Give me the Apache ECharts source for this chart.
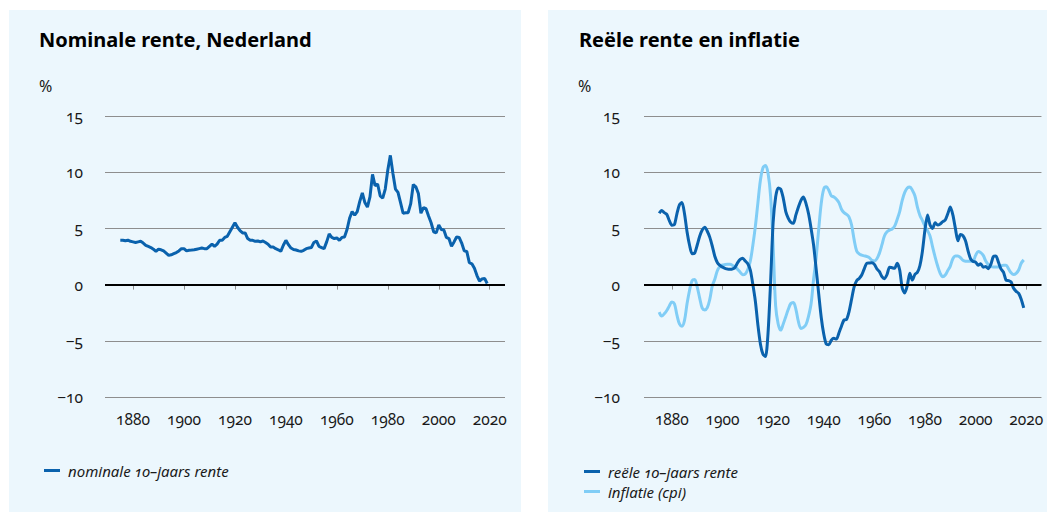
<!DOCTYPE html>
<html>
<head>
<meta charset="utf-8">
<script src="https://cdn.jsdelivr.net/npm/echarts@6/dist/echarts.min.js"></script>
<style>
html,body{margin:0;padding:0;background:#fff;}
#c{width:1047px;height:515px;font-feature-settings:"onum" 1;}
</style>
</head>
<body>
<div id="c"></div>
<script>
// ---------- data ----------
const startYear = 1875;
const xTickYears = [1880, 1900, 1920, 1940, 1960, 1980, 2000, 2020];
const yTickValues = [-10, -5, 0, 5, 10, 15];

const leftTitle = 'Nominale rente, Nederland';
const rightTitle = 'Reële rente en inflatie';
const unitLabel = '%';
const nominalName = 'nominale 10–jaars rente';
const realName = 'reële 10–jaars rente';
const inflationName = 'inflatie (cpi)';

// nominal 10-year rate, 1875-2019
const nominal = [
  3.95, 3.95, 3.9, 3.95, 3.85,
  3.8, 3.75, 3.8, 3.85, 3.7, 3.5, 3.4, 3.3, 3.15, 2.95,
  3.15, 3.1, 3.0, 2.8, 2.6, 2.65, 2.75, 2.85, 3.0, 3.2,
  3.2, 3.0, 3.05, 3.07, 3.1, 3.15, 3.2, 3.25, 3.2, 3.2,
  3.4, 3.6, 3.4, 3.6, 3.95, 3.95, 4.2, 4.3, 4.7, 5.1,
  5.5, 5.1, 4.8, 4.6, 4.6, 4.1, 3.95, 3.94, 3.85, 3.88,
  3.8, 3.88, 3.75, 3.6, 3.35, 3.35, 3.2, 3.1, 2.96, 3.5,
  3.94, 3.55, 3.25, 3.12, 3.08, 3.0, 2.96, 3.05, 3.2, 3.25,
  3.3, 3.75, 3.88, 3.4, 3.3, 3.2, 3.8, 4.5, 4.2, 4.1,
  4.15, 3.94, 4.2, 4.24, 4.9, 5.9, 6.5, 6.17, 6.5, 7.4,
  8.15, 7.3, 6.9, 7.8, 9.8, 8.8, 8.95, 7.9, 7.7, 8.5,
  10.2, 11.5, 9.9, 8.5, 8.2, 7.3, 6.35, 6.4, 6.4, 7.2,
  8.9, 8.7, 8.1, 6.35, 6.85, 6.75, 6.1, 5.5, 4.7, 4.6,
  5.3, 4.9, 4.85, 4.2, 4.1, 3.4, 3.8, 4.24, 4.2, 3.7,
  3.0, 2.95, 1.95, 1.85, 1.45, 0.8, 0.3, 0.5, 0.55, 0.1
];

// real 10-year rate, 1875-2019
const real = [
  6.35, 6.6, 6.4, 6.25, 5.7,
  5.28, 5.33, 6.3, 7.1, 7.3, 6.3, 4.7, 3.5, 2.75, 2.8,
  3.5, 4.3, 4.85, 5.1, 4.75, 4.2, 3.4, 2.5, 1.95, 1.7,
  1.55, 1.45, 1.38, 1.36, 1.4, 1.55, 1.95, 2.25, 2.35, 2.1,
  1.85, 1.3, 0.0, -1.5, -3.6, -5.3, -6.2, -6.4, -4.3, 0.2,
  5.5, 7.8, 8.6, 8.5, 7.7, 6.5, 5.9, 5.55, 5.45, 6.2,
  6.9, 7.5, 7.8, 7.2, 6.3, 5.0, 3.5, 1.4, -0.8, -2.9,
  -4.4, -5.3, -5.35, -4.95, -4.78, -4.85, -4.3, -3.7, -3.15, -3.1,
  -2.4, -1.3, -0.2, 0.35, 0.55, 0.85, 1.4, 1.9, 1.93, 1.94,
  1.8, 1.4, 1.15, 0.7, 0.53, 0.9, 1.55, 1.5, 1.45, 1.9,
  1.3, -0.3, -0.75, -0.1, 1.0, 0.4, 0.9, 1.1, 1.7, 3.0,
  4.9, 6.2, 5.3, 5.0, 5.5, 5.3, 5.4, 5.6, 5.75, 6.3,
  6.9, 6.2, 5.0, 3.9, 4.45, 4.35, 3.9, 3.0, 2.3, 2.05,
  2.0, 1.72, 1.86, 1.55, 1.6, 1.42, 1.8, 2.5, 2.55, 2.0,
  1.4, 1.1, 0.4, 0.36, 0.24, -0.33, -0.6, -0.78, -1.3, -2.08
];

// inflation (cpi), 1875-2019
const inflation = [
  -2.45, -2.8, -2.6, -2.3, -1.9,
  -1.55, -1.7, -2.7, -3.5, -3.7, -3.18, -1.7, -0.5, 0.35, 0.45,
  -0.2, -1.2, -2.1, -2.25, -2.05, -1.3, -0.1, 0.5, 1.25, 1.6,
  1.75, 1.78, 1.8, 1.81, 1.7, 1.57, 1.35, 1.1, 0.88, 0.95,
  1.35, 2.1, 3.5, 5.2, 7.3, 9.3, 10.4, 10.6, 9.9, 7.9,
  3.5, -1.9, -3.5, -4.05, -3.5, -2.85, -2.2, -1.68, -1.6, -2.2,
  -3.3, -3.9, -3.8, -3.55, -2.8, -1.7, 0.5, 2.4, 4.9, 7.2,
  8.5, 8.7, 8.4, 7.9, 7.8, 7.6, 7.3, 6.7, 6.4, 6.25,
  6.0, 5.3, 4.0, 3.0, 2.73, 2.62, 2.56, 2.5, 2.4, 2.16,
  2.1, 2.3, 2.8, 3.55, 4.35, 4.7, 4.85, 4.95, 5.2, 5.8,
  6.5, 7.5, 8.2, 8.6, 8.68, 8.4, 7.9, 6.9, 6.15, 5.7,
  5.2, 4.8, 4.3, 3.35, 2.45, 1.65, 1.0, 0.7, 0.85, 1.25,
  1.65, 2.3, 2.55, 2.55, 2.4, 2.16, 2.08, 2.07, 2.07, 2.1,
  2.6, 2.95, 2.85, 2.6, 2.1, 1.78, 1.63, 1.57, 1.57, 1.57,
  1.65, 1.72, 1.72, 1.4, 1.05, 0.9, 1.0, 1.3, 1.9, 2.2
];

// ---------- chart ----------
const FONT = '"Noto Sans", "Open Sans", sans-serif';
const DARK = '#0a62ad';
const LIGHT = '#80cdf6';
const GRIDC = '#8e8e8e';
const BG = '#ecf7fd';
const TXT = '#1a1a1a';

const pairs = arr => arr.map((v, i) => [startYear + i, v]);
const fmtY = v => (v < 0 ? '\u2212' + Math.abs(v) : String(v));

function makeX(gi) {
  return {
    type: 'value', gridIndex: gi, min: 1869, max: 2026,
    splitLine: { show: false },
    axisLine: { show: false },
    axisTick: { show: true, customValues: xTickYears, length: 5, lineStyle: { color: GRIDC, width: 1 } },
    axisLabel: { customValues: xTickYears, margin: 14, color: TXT, fontSize: 15.5, fontFamily: FONT, formatter: v => String(v) }
  };
}
function makeY(gi, margin) {
  return {
    type: 'value', gridIndex: gi, min: -10, max: 15, interval: 5,
    axisLine: { show: false }, axisTick: { show: false },
    splitLine: { show: true, lineStyle: { color: GRIDC, width: 1 } },
    axisLabel: { margin: margin, color: TXT, fontSize: 15.5, fontFamily: FONT, formatter: fmtY }
  };
}
const zeroLine = {
  silent: true, symbol: ['none', 'none'], label: { show: false },
  lineStyle: { color: '#000', width: 2, type: 'solid' },
  emphasis: { disabled: true },
  data: [{ yAxis: 0 }], animation: false
};
const legendText = { fontSize: 15, fontStyle: 'italic', color: TXT, fontFamily: FONT, padding: [0, 0, 0, 3] };

const chart = echarts.init(document.getElementById('c'), null, { renderer: 'svg' });
chart.setOption({
  animation: false,
  backgroundColor: '#ffffff',
  graphic: [
    { type: 'rect', silent: true, z: -100, shape: { x: 9, y: 10, width: 512, height: 502 }, style: { fill: BG } },
    { type: 'rect', silent: true, z: -100, shape: { x: 548, y: 10, width: 499, height: 502 }, style: { fill: BG } },
    { type: 'text', silent: true, left: 39, top: 78, style: { text: unitLabel, font: '16px ' + FONT, fill: TXT } },
    { type: 'text', silent: true, left: 578, top: 78, style: { text: unitLabel, font: '16px ' + FONT, fill: TXT } }
  ],
  title: [
    { text: leftTitle, left: 39, top: 29, padding: 0, textStyle: { fontSize: 20, fontWeight: 'bold', color: '#000', fontFamily: FONT } },
    { text: rightTitle, left: 579, top: 29, padding: 0, textStyle: { fontSize: 20, fontWeight: 'bold', color: '#000', fontFamily: FONT } }
  ],
  legend: [
    { data: [nominalName], left: 44, top: 463, padding: 0, icon: 'rect', itemWidth: 16, itemHeight: 3, textStyle: legendText },
    { data: [realName, inflationName], orient: 'vertical', left: 584, top: 464, padding: 0, itemGap: 5, icon: 'rect', itemWidth: 16, itemHeight: 3, textStyle: legendText }
  ],
  grid: [
    { left: 105, right: 542, top: 116, bottom: 118 },
    { left: 644, right: 4, top: 116, bottom: 118 }
  ],
  xAxis: [makeX(0), makeX(1)],
  yAxis: [makeY(0, 22), makeY(1, 24)],
  series: [
    { name: nominalName, type: 'line', xAxisIndex: 0, yAxisIndex: 0, data: pairs(nominal), showSymbol: false, symbol: 'none',
      lineStyle: { color: DARK, width: 3 }, itemStyle: { color: DARK }, markLine: zeroLine, z: 3 },
    { name: inflationName, type: 'line', xAxisIndex: 1, yAxisIndex: 1, data: pairs(inflation), showSymbol: false, symbol: 'none', smooth: 0.35,
      lineStyle: { color: LIGHT, width: 3 }, itemStyle: { color: LIGHT }, markLine: zeroLine, z: 3 },
    { name: realName, type: 'line', xAxisIndex: 1, yAxisIndex: 1, data: pairs(real), showSymbol: false, symbol: 'none', smooth: 0.25,
      lineStyle: { color: DARK, width: 3 }, itemStyle: { color: DARK }, z: 4 }
  ]
});
</script>
</body>
</html>
